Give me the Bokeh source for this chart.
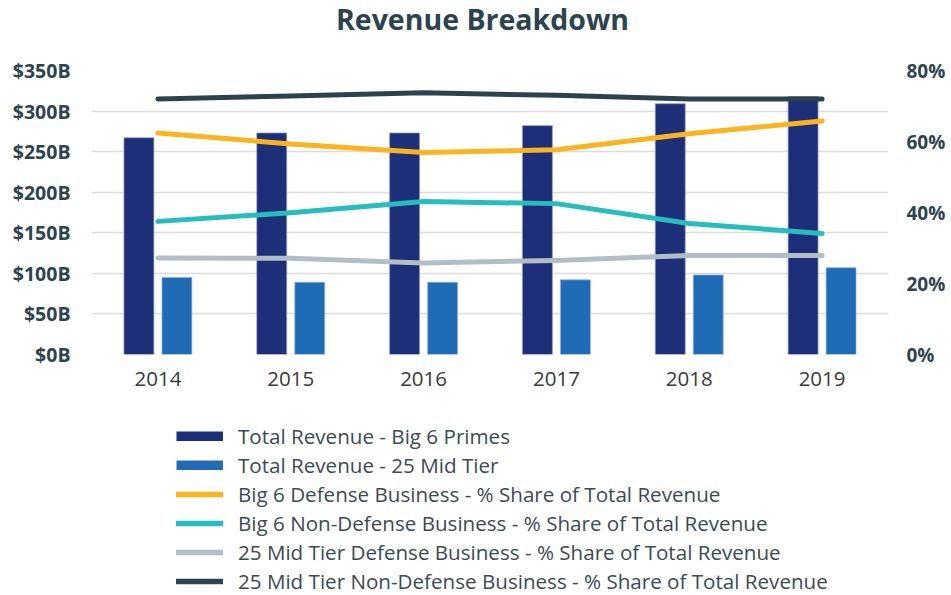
from bokeh.plotting import figure
from bokeh.layouts import column
from bokeh.models import (ColumnDataSource, FactorRange, Range1d, LinearAxis, FixedTicker,
                          Legend, LegendItem, Label)
from bokeh.transform import dodge
from bokeh.embed import file_html
from bokeh.resources import INLINE

# ---- data ----
years = ["2014", "2015", "2016", "2017", "2018", "2019"]
big6_revenue = [267, 273, 273, 282, 309, 318]          # $B
mid25_revenue = [95, 89, 89, 92, 98, 107]              # $B
big6_defense_pct = [62.4, 59.3, 56.9, 57.7, 62.2, 65.8]
big6_nondefense_pct = [37.5, 39.9, 43.1, 42.5, 36.9, 34.1]
mid25_defense_pct = [27.2, 27.1, 25.8, 26.5, 27.9, 27.9]
mid25_nondefense_pct = [72.0, 72.8, 73.7, 73.0, 72.0, 72.0]
left_ticks = [0, 50, 100, 150, 200, 250, 300, 350]
right_ticks = [0, 20, 40, 60, 80]
chart_title = "Revenue Breakdown"

series_names = [
    "Total Revenue - Big 6 Primes",
    "Total Revenue - 25 Mid Tier",
    "Big 6 Defense Business - % Share of Total Revenue",
    "Big 6 Non-Defense Business - % Share of Total Revenue",
    "25 Mid Tier Defense Business - % Share of Total Revenue",
    "25 Mid Tier Non-Defense Business - % Share of Total Revenue",
]

NAVY = "#1c2f78"
BLUE = "#1f6bb5"
YELLOW = "#fbb420"
TEAL = "#27bdbe"
GRAY = "#b2bec6"
DARK = "#2c434f"
TEXT = "#2d4450"
FONT = "Open Sans"
W = 951
FRAME_LEFT = 91   # column layout aligns the frames of the stacked figures


def bare_figure(h):
    f = figure(width=W, height=h, x_range=Range1d(0, 1), y_range=Range1d(0, 1),
               x_axis_type=None, y_axis_type=None, output_backend="svg",
               toolbar_location=None, min_border=0)
    f.min_border_left = f.min_border_right = f.min_border_top = f.min_border_bottom = 0
    f.outline_line_color = None
    f.xgrid.visible = False
    f.ygrid.visible = False
    return f


src = ColumnDataSource(dict(
    year=years, idx=list(range(len(years))), big6=big6_revenue, mid=mid25_revenue,
    b6d=big6_defense_pct, b6n=big6_nondefense_pct,
    m25d=mid25_defense_pct, m25n=mid25_nondefense_pct,
))

# ---- title strip ----
tfig = bare_figure(45)
tfig.add_layout(Label(x=482 - FRAME_LEFT, y=27, x_units="screen", y_units="screen",
                      text=chart_title, text_align="center", text_baseline="alphabetic",
                      text_font=FONT, text_font_size="28.5px", text_font_style="bold",
                      text_color=TEXT))

# ---- main chart ----
p = figure(x_range=FactorRange(factors=years), y_range=Range1d(0, 350),
           width=W, height=365, output_backend="svg", toolbar_location=None,
           min_border_left=FRAME_LEFT, min_border_right=63, min_border_top=25,
           min_border_bottom=56)
p.extra_y_ranges = {"pct": Range1d(0, 80)}
p.outline_line_color = None

p.xgrid.grid_line_color = None
p.ygrid.ticker = FixedTicker(ticks=left_ticks)
p.ygrid.grid_line_color = "#dcdcdc"
p.ygrid.grid_line_width = 1.6


def style_axis(ax, size, bold, color, standoff):
    ax.axis_line_color = None
    ax.major_tick_line_color = None
    ax.minor_tick_line_color = None
    ax.major_label_text_font = FONT
    ax.major_label_text_font_size = size
    ax.major_label_text_font_style = "bold" if bold else "normal"
    ax.major_label_text_color = color
    ax.major_label_standoff = standoff


p.yaxis.ticker = FixedTicker(ticks=left_ticks)
p.yaxis.major_label_overrides = {v: f"${v}B" for v in left_ticks}
style_axis(p.yaxis[0], "19.5px", True, TEXT, 15)

right = LinearAxis(y_range_name="pct", ticker=FixedTicker(ticks=right_ticks))
right.major_label_overrides = {v: f"{v}%" for v in right_ticks}
style_axis(right, "19px", True, TEXT, 12)
p.add_layout(right, "right")

style_axis(p.xaxis[0], "20.5px", False, "#3a3a3a", 11)

p.vbar(x=dodge("year", -0.143, range=p.x_range), top="big6", width=0.225, source=src,
       fill_color=NAVY, line_color="#8a95c0", line_width=1, line_alpha=0.7)
p.vbar(x=dodge("year", 0.143, range=p.x_range), top="mid", width=0.225, source=src,
       fill_color=BLUE, line_color="#8fb0d8", line_width=1, line_alpha=0.7)

for col, c in [("b6d", YELLOW), ("b6n", TEAL), ("m25d", GRAY), ("m25n", DARK)]:
    p.line(x="year", y=col, source=src, y_range_name="pct", line_color=c,
           line_width=5, line_cap="round", line_join="round")

# ---- legend strip ----
# proxy renderers plot the same series, but fall outside this strip's view (0..1),
# so only their legend swatches are seen
lfig = bare_figure(185)
proxies = []
for col, c, w, cap in [("big6", NAVY, 10, "butt"), ("mid", BLUE, 10, "butt"),
                       ("b6d", YELLOW, 5.5, "round"), ("b6n", TEAL, 5.5, "round"),
                       ("m25d", GRAY, 5.5, "round"), ("m25n", DARK, 5.5, "round")]:
    proxies.append(lfig.line(x="idx", y=col, source=src, line_color=c, line_width=w,
                             line_cap=cap))

legend = Legend(items=[LegendItem(label=n, renderers=[r]) for n, r in zip(series_names, proxies)],
                location=(176 - FRAME_LEFT, 0), orientation="vertical",
                glyph_width=47, glyph_height=10, label_height=29, spacing=0,
                padding=0, margin=0, border_line_color=None, background_fill_alpha=0,
                label_standoff=15, label_text_font=FONT, label_text_font_size="20.6px",
                label_text_color="#3b4a54")
lfig.add_layout(legend)

layout = column(tfig, p, lfig, spacing=0)
open("out.html", "w").write(file_html(layout, INLINE))
